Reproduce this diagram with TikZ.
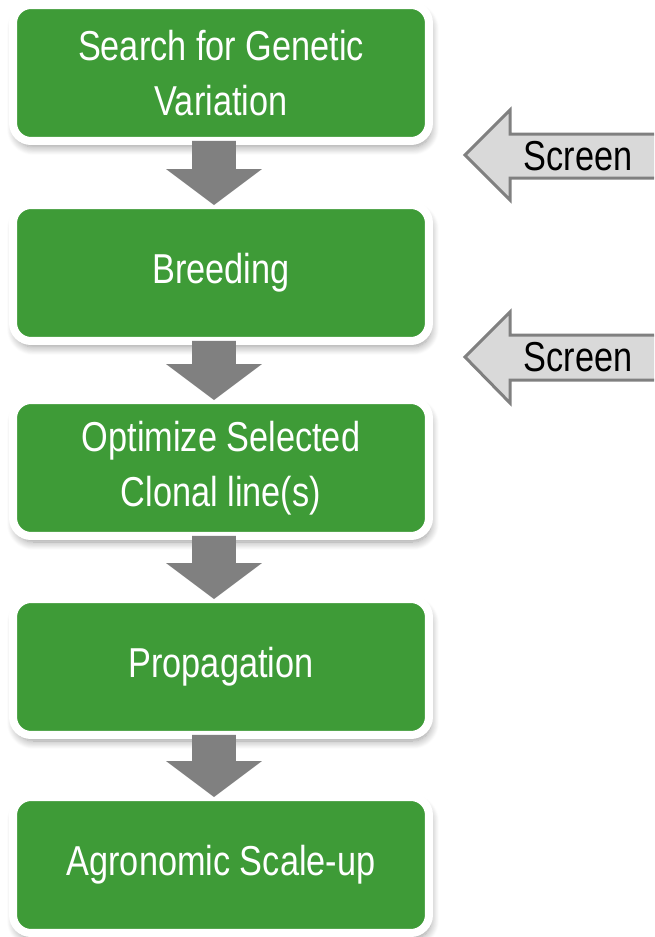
\documentclass[tikz,border=0pt]{standalone}
\usepackage{fontspec}
\setmainfont{Liberation Sans}[FakeStretch=0.82]
\usetikzlibrary{shadows.blur, calc}
\definecolor{vert}{RGB}{62,155,55}
\definecolor{gris}{RGB}{128,128,128}
\definecolor{grislight}{RGB}{217,217,217}

\begin{document}
\begin{tikzpicture}[
		x=0.02cm, y=-0.02cm,
		box/.style={draw=white, line width=0.16cm, fill=vert, rounded corners=0.36cm,
			minimum width=8.32cm, minimum height=2.72cm, outer sep=0pt,
			text=white, align=center, font=\fontsize{23.8}{31.3}\selectfont,
			blur shadow={shadow xshift=0.04cm, shadow yshift=-0.12cm,
				shadow blur radius=0.16cm, shadow blur steps=10, shadow opacity=40}},
		flowarrow/.style={fill=gris, to path={
				let \p1=(\tikztostart), \p2=(\tikztotarget) in
				(\x1-0.44cm,\y1) -- (\x1+0.44cm,\y1) -- (\x1+0.44cm,\y2+0.72cm)
				-- (\x1+0.96cm,\y2+0.72cm) -- (\x2,\y2) -- (\x1-0.96cm,\y2+0.72cm)
				-- (\x1-0.44cm,\y2+0.72cm) -- cycle}},
		screen/.style={draw=gris, fill=grislight, line width=0.06cm, line join=miter},
		screentext/.style={font=\fontsize{23.8}{31.3}\selectfont, text=black}
		]
		\useasboundingbox (0,0) rectangle (654,937);
		\clip (0,0) rectangle (654,937);
		
		\node[box] (gen)   at (221,73)  {Search for Genetic\\Variation};
		\node[box] (breed) at (221,273) {Breeding};
		\node[box] (opt)   at (221,468) {Optimize Selected\\Clonal line(s)};
		\node[box] (prop)  at (221,667) {Propagation};
		\node[box] (agro)  at (221,865) {Agronomic Scale-up};
		
		\path[flowarrow] ([xshift=-0.14cm]gen.south) to ([xshift=-0.14cm]breed.north);
		\path[flowarrow] ([xshift=-0.14cm]breed.south) to ([xshift=-0.14cm]opt.north);
		\path[flowarrow] ([xshift=-0.14cm]opt.south) to ([xshift=-0.14cm]prop.north);
		\path[flowarrow] ([xshift=-0.14cm]prop.south) to ([xshift=-0.14cm]agro.north);
		
		% screening arrows on the right
		\draw[screen] (465,155) -- (510,110) -- (510,134) -- (680,134)
			-- (680,178) -- (510,178) -- (510,200) -- cycle;
		\node[screentext] (scr1) at (578,156) {Screen};
		\draw[screen] (465,357) -- (510,312) -- (510,335) -- (680,335)
			-- (680,380) -- (510,380) -- (510,403) -- cycle;
		\node[screentext] (scr2) at (578,357) {Screen};
	\end{tikzpicture}
\end{document}
